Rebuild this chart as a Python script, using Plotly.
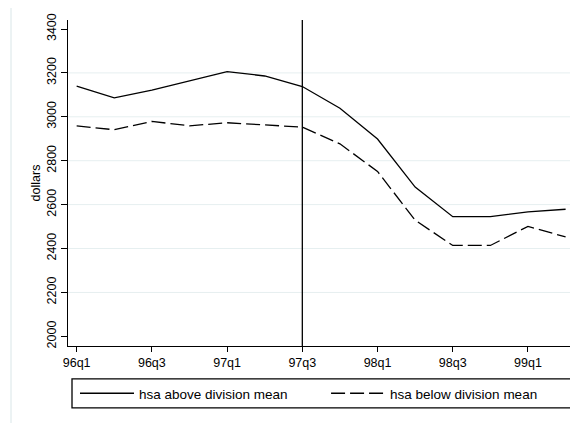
import plotly.graph_objects as go

quarters = ["96q1", "96q2", "96q3", "96q4", "97q1", "97q2", "97q3",
            "97q4", "98q1", "98q2", "98q3", "98q4", "99q1", "99q2"]
above = [3140, 3086, 3122, 3165, 3206, 3186, 3138,
         3039, 2899, 2680, 2545, 2545, 2567, 2579]
below = [2959, 2941, 2979, 2959, 2973, 2962, 2953,
         2877, 2751, 2529, 2414, 2414, 2501, 2453]
tick_quarters = ["96q1", "96q3", "97q1", "97q3", "98q1", "98q3", "99q1"]
y_ticks = [2000, 2200, 2400, 2600, 2800, 3000, 3200, 3400]
grid_vals = [2200, 2400, 2600, 2800, 3000, 3200]
event_quarter = "97q3"

FONT = "Liberation Sans, Arial, Helvetica, sans-serif"
GRID = "#e6eff0"

fig = go.Figure()
fig.add_trace(go.Scatter(x=quarters, y=above, mode="lines",
                         name="hsa above division mean", legend="legend",
                         line=dict(color="black", width=1.3)))
fig.add_trace(go.Scatter(x=quarters, y=below, mode="lines",
                         name="hsa below division mean", legend="legend2",
                         line=dict(color="black", width=1.3, dash="14px,5px")))

shapes = []
# outer frame
shapes.append(dict(type="rect", xref="paper", yref="paper",
                   x0=-0.1124, x1=1.2, y0=-0.4, y1=1.046,
                   line=dict(color=GRID, width=1.5), layer="below"))
for g in grid_vals:
    shapes.append(dict(type="line", xref="paper", yref="y", x0=0, x1=1,
                       y0=g, y1=g, line=dict(color=GRID, width=1), layer="below"))
ev = quarters.index(event_quarter)
shapes.append(dict(type="line", xref="x", yref="paper", x0=ev, x1=ev,
                   y0=0, y1=1, line=dict(color="black", width=1.3)))
# legend frame
shapes.append(dict(type="rect", xref="paper", yref="paper",
                   x0=0.0079, x1=0.9961, y0=-0.190, y1=-0.101,
                   line=dict(color="black", width=1.3), layer="above"))

leg_common = dict(orientation="h", yanchor="middle", y=-0.1457, xanchor="left",
                  borderwidth=0, itemwidth=54, bgcolor="rgba(0,0,0,0)",
                  font=dict(size=13.5, family=FONT))

fig.update_layout(
    width=570, height=415,
    margin=dict(l=60, r=3, t=12, b=77),
    paper_bgcolor="white", plot_bgcolor="white",
    font=dict(family=FONT, size=12.5, color="black"),
    shapes=shapes,
    showlegend=True,
    legend=dict(x=0.0138, **leg_common),
    legend2=dict(x=0.509, **leg_common),
    xaxis=dict(type="category", categoryorder="array", categoryarray=quarters,
               range=[-0.23, 13.25], tickmode="array", tickvals=tick_quarters,
               ticktext=tick_quarters, ticks="outside", ticklen=5, tickwidth=1,
               tickcolor="black", showline=True, linecolor="black", linewidth=1.3,
               showgrid=False, zeroline=False, tickfont=dict(size=12.5),
               automargin=False),
    yaxis=dict(range=[1956, 3441], tickmode="array", tickvals=y_ticks,
               ticks="outside", ticklen=6, tickwidth=1, tickcolor="black",
               showline=True, linecolor="black", linewidth=1.3,
               showgrid=False, zeroline=False, tickangle=-90,
               tickfont=dict(size=12.5), automargin=False,
               title=dict(text="dollars", font=dict(size=12.5), standoff=1)),
)

fig.write_html("out.html")
